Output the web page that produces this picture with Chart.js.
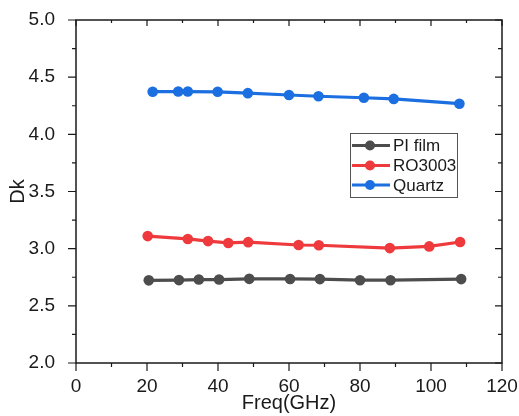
<!DOCTYPE html>
<html>
<head>
<meta charset="utf-8">
<script src="https://cdn.jsdelivr.net/npm/chart.js@4"></script>
<style>
  html, body { margin: 0; padding: 0; background: #ffffff; }
  #wrap { width: 519px; height: 416px; }
</style>
</head>
<body>
<div id="wrap"><canvas id="c" width="519" height="416"></canvas></div>
<script>
// ---- data ----
const seriesNames = ["PI film", "RO3003", "Quartz"];
const piFreq   = [20.5, 29.0, 34.6, 40.3, 48.8, 60.3, 68.7, 80.0, 88.6, 108.5];
const piDk     = [2.723, 2.725, 2.730, 2.730, 2.736, 2.735, 2.734, 2.724, 2.724, 2.734];
const roFreq   = [20.2, 31.5, 37.2, 42.9, 48.5, 62.7, 68.4, 88.4, 99.5, 108.2];
const roDk     = [3.110, 3.085, 3.066, 3.050, 3.057, 3.032, 3.030, 3.005, 3.020, 3.058];
const qzFreq   = [21.6, 28.8, 31.5, 39.9, 48.4, 60.0, 68.3, 81.1, 89.5, 108.0];
const qzDk     = [4.373, 4.374, 4.374, 4.372, 4.360, 4.344, 4.333, 4.320, 4.310, 4.268];
const xTitle = "Freq(GHz)";
const yTitle = "Dk";

const colors = ["#4d4d4d", "#ee3a3d", "#1c6fe0"];

function pts(xs, ys) { return xs.map((x, i) => ({ x: x, y: ys[i] })); }

const datasets = [
  [piFreq, piDk], [roFreq, roDk], [qzFreq, qzDk]
].map((p, i) => ({
  label: seriesNames[i],
  data: pts(p[0], p[1]),
  showLine: true,
  borderColor: colors[i],
  backgroundColor: colors[i],
  borderWidth: 3.2,
  pointRadius: 5.3,
  pointBorderWidth: 0,
  tension: 0
}));

const FONT = "'Liberation Sans', Arial, sans-serif";

// frame, ticks (major+minor) and legend drawn through the scales
const framePlugin = {
  id: 'frame',
  afterDraw(chart) {
    const ctx = chart.ctx;
    const a = chart.chartArea;
    const xs = chart.scales.x, ys = chart.scales.y;
    ctx.save();
    ctx.strokeStyle = '#1a1a1a';
    ctx.lineWidth = 1.5;
    ctx.strokeRect(a.left, a.top, a.right - a.left, a.bottom - a.top);
    ctx.lineWidth = 1.2;
    ctx.beginPath();
    for (let v = 0; v <= 120; v += 10) {
      const px = xs.getPixelForValue(v);
      const major = v % 20 === 0;
      const out = major ? 8 : 4, inn = major ? 6 : 3;
      ctx.moveTo(px, a.bottom); ctx.lineTo(px, a.bottom + out);
      ctx.moveTo(px, a.top); ctx.lineTo(px, a.top + inn);
    }
    for (let k = 0; k <= 12; k++) {
      const v = 2 + k * 0.25;
      const py = ys.getPixelForValue(v);
      const major = k % 2 === 0;
      const out = major ? 8 : 4, inn = major ? 7 : 4;
      ctx.moveTo(a.left, py); ctx.lineTo(a.left - out, py);
      ctx.moveTo(a.right, py); ctx.lineTo(a.right - inn, py);
    }
    ctx.stroke();

    // legend box
    const bx = 350, by = 133, bw = 107, bh = 64;
    ctx.strokeStyle = '#555';
    ctx.lineWidth = 1;
    ctx.fillStyle = '#fff';
    ctx.fillRect(bx, by, bw, bh);
    ctx.strokeRect(bx + 0.5, by + 0.5, bw, bh);
    const rowY = [145.5, 165.5, 185];
    chart.data.datasets.forEach((ds, i) => {
      const y = rowY[i];
      ctx.strokeStyle = ds.borderColor;
      ctx.lineWidth = 3;
      ctx.beginPath();
      ctx.moveTo(bx + 2, y); ctx.lineTo(bx + 40, y);
      ctx.stroke();
      ctx.fillStyle = ds.backgroundColor;
      ctx.beginPath();
      ctx.arc(bx + 20, y, 5, 0, Math.PI * 2);
      ctx.fill();
      ctx.fillStyle = '#1a1a1a';
      ctx.font = "17px " + FONT;
      ctx.textBaseline = 'middle';
      ctx.textAlign = 'left';
      ctx.fillText(ds.label, bx + 43, y + 1);
    });
    ctx.restore();
  }
};

new Chart(document.getElementById('c'), {
  type: 'scatter',
  data: { datasets: datasets },
  options: {
    responsive: false,
    animation: false,
    devicePixelRatio: 1,
    layout: { padding: { left: 0, top: 20, right: 17, bottom: 0 } },
    plugins: { legend: { display: false }, tooltip: { enabled: false } },
    scales: {
      x: {
        type: 'linear', min: 0, max: 120,
        afterFit(s) { s.height = 53; s.paddingLeft = 0; s.paddingRight = 0; },
        grid: { display: false },
        border: { display: false },
        ticks: { stepSize: 20, padding: 4, color: '#1a1a1a', font: { family: FONT, size: 19 }, maxRotation: 0 },
        title: { display: true, text: xTitle, color: '#1a1a1a', font: { family: FONT, size: 20 }, padding: { top: 0, bottom: 1 } }
      },
      y: {
        type: 'linear', min: 2.0, max: 5.0,
        afterFit(s) { s.width = 76; s.paddingTop = 0; s.paddingBottom = 0; },
        grid: { display: false },
        border: { display: false },
        ticks: { stepSize: 0.5, padding: 13, color: '#1a1a1a', font: { family: FONT, size: 19 },
                 callback: v => v.toFixed(1) },
        title: { display: true, text: yTitle, color: '#1a1a1a', font: { family: FONT, size: 20 }, padding: { top: 6, bottom: 0 } }
      }
    }
  },
  plugins: [framePlugin]
});
</script>
</body>
</html>
